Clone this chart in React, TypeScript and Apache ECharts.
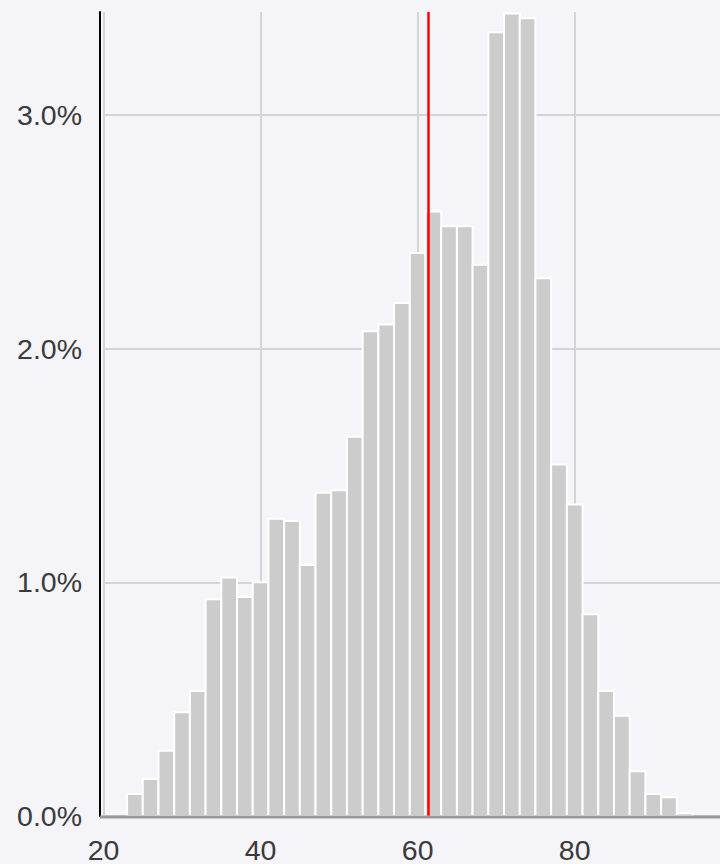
import React, { useEffect, useRef } from "react";
import * as echarts from "echarts";

// Histogram bins (bin centres, width 2) and their share of observations in %
const binCenters = [24, 26, 28, 30, 32, 34, 36, 38, 40, 42, 44, 46, 48, 50, 52, 54, 56, 58, 60, 62, 64, 66, 68, 70, 72, 74, 76, 78, 80, 82, 84, 86, 88, 90, 92, 94];
const binShares = [0.094, 0.158, 0.279, 0.444, 0.535, 0.927, 1.02, 0.937, 1.0, 1.272, 1.262, 1.074, 1.383, 1.394, 1.623, 2.074, 2.103, 2.195, 2.409, 2.586, 2.523, 2.523, 2.359, 3.353, 3.434, 3.413, 2.301, 1.504, 1.333, 0.863, 0.535, 0.429, 0.191, 0.094, 0.08, 0.012];
const binWidth = 2;
const meanValue = 61.36;
const xTickLabels = [20, 40, 60, 80];
const yTickLabels = [0, 1, 2, 3];
// baseline (x axis line) drawn across the full width of the second grid
const baselineX = [0, 1];
const baselineY = [0, 0];

export default function App() {
  const ref = useRef<HTMLDivElement>(null);

  useEffect(() => {
    if (!ref.current) return;
    const chart = echarts.init(ref.current, null, { renderer: "svg" });
    const data = binCenters.map((c, i) => [c, binShares[i]]);
    const baseline = baselineX.map((x, i) => [x, baselineY[i]]);
    const font = "'Liberation Sans', Arial, sans-serif";
    chart.setOption({
      animation: false,
      backgroundColor: "#f5f4f8",
      grid: [
        { left: 103.5, right: -4.3, top: 12, bottom: 47, containLabel: false },
        { left: 100, right: -4.3, top: 12, bottom: 47, containLabel: false },
      ],
      xAxis: [
        {
          type: "value",
          gridIndex: 0,
          min: 20,
          max: 98.5,
          interval: 20,
          axisLine: { show: false },
          axisTick: { show: false },
          axisLabel: {
            margin: 19,
            fontSize: 28.5,
            fontFamily: font,
            color: "#3a3a3a",
            showMaxLabel: false,
            formatter: (v: number) => (xTickLabels.includes(v) ? String(v) : ""),
          },
          splitLine: { show: true, showMaxLine: false, lineStyle: { color: "#d4d4d4", width: 2 } },
        },
        {
          type: "value",
          gridIndex: 1,
          min: 0,
          max: 1,
          show: false,
        },
      ],
      yAxis: [
        {
          type: "value",
          gridIndex: 0,
          min: 0,
          max: 3.44,
          interval: 1,
          offset: 3.5,
          axisLine: { show: true, onZero: false, lineStyle: { color: "#000000", width: 2 } },
          axisTick: { show: false },
          axisLabel: {
            margin: 18,
            fontSize: 28.5,
            fontFamily: font,
            color: "#3a3a3a",
            showMaxLabel: false,
            padding: [6, 0, 0, 0],
            formatter: (v: number) => (yTickLabels.includes(v) ? v.toFixed(1) + "%" : ""),
          },
          splitLine: { show: true, showMaxLine: false, lineStyle: { color: "#d4d4d4", width: 2 } },
        },
        {
          type: "value",
          gridIndex: 1,
          min: 0,
          max: 1,
          show: false,
        },
      ],
      series: [
        {
          type: "custom",
          xAxisIndex: 0,
          yAxisIndex: 0,
          data,
          renderItem: (params: any, api: any) => {
            const c = api.value(0);
            const v = api.value(1);
            const p0 = api.coord([c - binWidth / 2, v]);
            const p1 = api.coord([c + binWidth / 2, 0]);
            return {
              type: "rect",
              shape: { x: p0[0], y: p0[1], width: p1[0] - p0[0], height: p1[1] - p0[1] },
              style: { fill: "#cccccc", stroke: "#ffffff", lineWidth: 2 },
            };
          },
          markLine: {
            silent: true,
            symbol: "none",
            label: { show: false },
            lineStyle: { color: "#ff0000", width: 2.5, type: "solid" },
            data: [{ xAxis: meanValue }],
          },
          z: 2,
        },
        {
          type: "line",
          xAxisIndex: 1,
          yAxisIndex: 1,
          data: baseline,
          symbol: "none",
          silent: true,
          clip: false,
          lineStyle: { color: "#9a9a9a", width: 3 },
          z: 5,
        },
      ],
    });
    return () => chart.dispose();
  }, []);

  return (
    <div
      ref={ref}
      style={{ position: "fixed", left: 0, top: 0, width: 720, height: 864 }}
    />
  );
}
